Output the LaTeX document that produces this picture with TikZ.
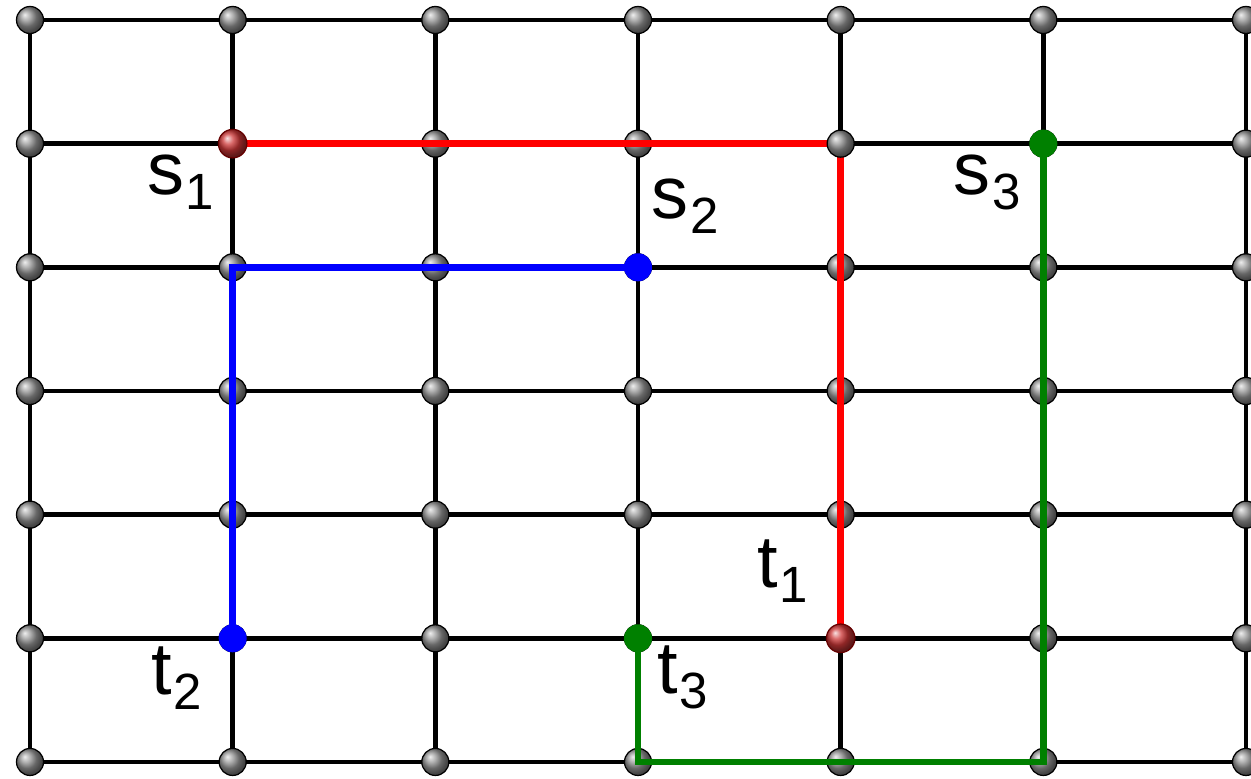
\documentclass[tikz,border=0pt]{standalone}
\usepackage{fontspec}
\setmainfont{Liberation Sans}
\usepackage{tikz}
\usetikzlibrary{positioning,calc,shadings}
\definecolor{pathred}{RGB}{255,0,0}
\definecolor{pathblue}{RGB}{0,0,255}
\definecolor{pathgreen}{RGB}{0,128,0}
\definecolor{ballred}{RGB}{205,55,55}
\newcommand{\termlbl}[2]{{\fontsize{42}{42}\selectfont #1}\kern1pt\raisebox{-8.5pt}{\fontsize{29}{29}\selectfont #2}}
\tikzset{
  gline/.style={black, line width=2.8pt},
  knot/.style={circle, draw=black, line width=0.7pt, shading=ball, ball color=gray!85, minimum size=0.54cm, inner sep=0pt},
  rknot/.style={knot, ball color=ballred, draw=red!40!black, minimum size=0.57cm},
  fknot/.style={circle, minimum size=0.56cm, inner sep=0pt},
  rroute/.style={pathred, line width=3.8pt},
  broute/.style={pathblue, line width=3.8pt},
  groute/.style={pathgreen, line width=3.8pt},
  tlbl/.style={inner sep=0pt, anchor=center},
}

\begin{document}
\begin{tikzpicture}[x=4.053cm,y=2.473cm]
  \useasboundingbox (-0.148,0.1617) rectangle (6.0247,-6.137);
  % grid points
  \foreach \c in {0,...,6}
    \foreach \r in {0,...,6}
      \coordinate (v-\c-\r) at (\c,-\r);
  % grid lines
  \foreach \c in {0,...,6} {
    \draw[gline] (v-\c-0) -- (v-\c-6);
    \draw[gline] (v-0-\c) -- (v-6-\c);
  }
  % knots (the red corner comes later)
  \foreach \c in {0,...,6}
    \foreach \r in {0,...,6} {
      \ifnum\c\r=41 \else
        \node[knot] (n-\c-\r) at (v-\c-\r) {};
      \fi
    }
  % routes
  \draw[rroute] (v-1-1) -- (v-4-1) -- (v-4-5);
  \node[knot] (n-4-1) at (v-4-1) {};
  \draw[broute] (v-3-2) -- (v-1-2) -- (v-1-5);
  \draw[groute] (v-5-1) -- (v-5-6) -- (v-3-6) -- (v-3-5);
  % terminals
  \node[rknot] (s1) at (v-1-1) {};
  \node[rknot] (t1) at (v-4-5) {};
  \node[fknot, fill=pathblue] (s2) at (v-3-2) {};
  \node[fknot, fill=pathblue] (t2) at (v-1-5) {};
  \node[fknot, fill=pathgreen] (s3) at (v-5-1) {};
  \node[fknot, fill=pathgreen] (t3) at (v-3-5) {};
  % labels
  \node[tlbl] (s1-lbl) at ([xshift=-1.04cm,yshift=-0.78cm]s1.center) {\termlbl{s}{1}};
  \node[tlbl] (s2-lbl) at ([xshift=0.94cm,yshift=1.22cm]s2.center) {\termlbl{s}{2}};
  \node[tlbl] (s3-lbl) at ([xshift=-1.12cm,yshift=-0.78cm]s3.center) {\termlbl{s}{3}};
  \node[tlbl] (t1-lbl) at ([xshift=-1.16cm,yshift=1.34cm]t1.center) {\termlbl{t}{1}};
  \node[tlbl] (t2-lbl) at ([xshift=-1.12cm,yshift=-0.80cm]t2.center) {\termlbl{t}{2}};
  \node[tlbl] (t3-lbl) at ([xshift=0.90cm,yshift=-0.78cm]t3.center) {\termlbl{t}{3}};
\end{tikzpicture}
\end{document}
